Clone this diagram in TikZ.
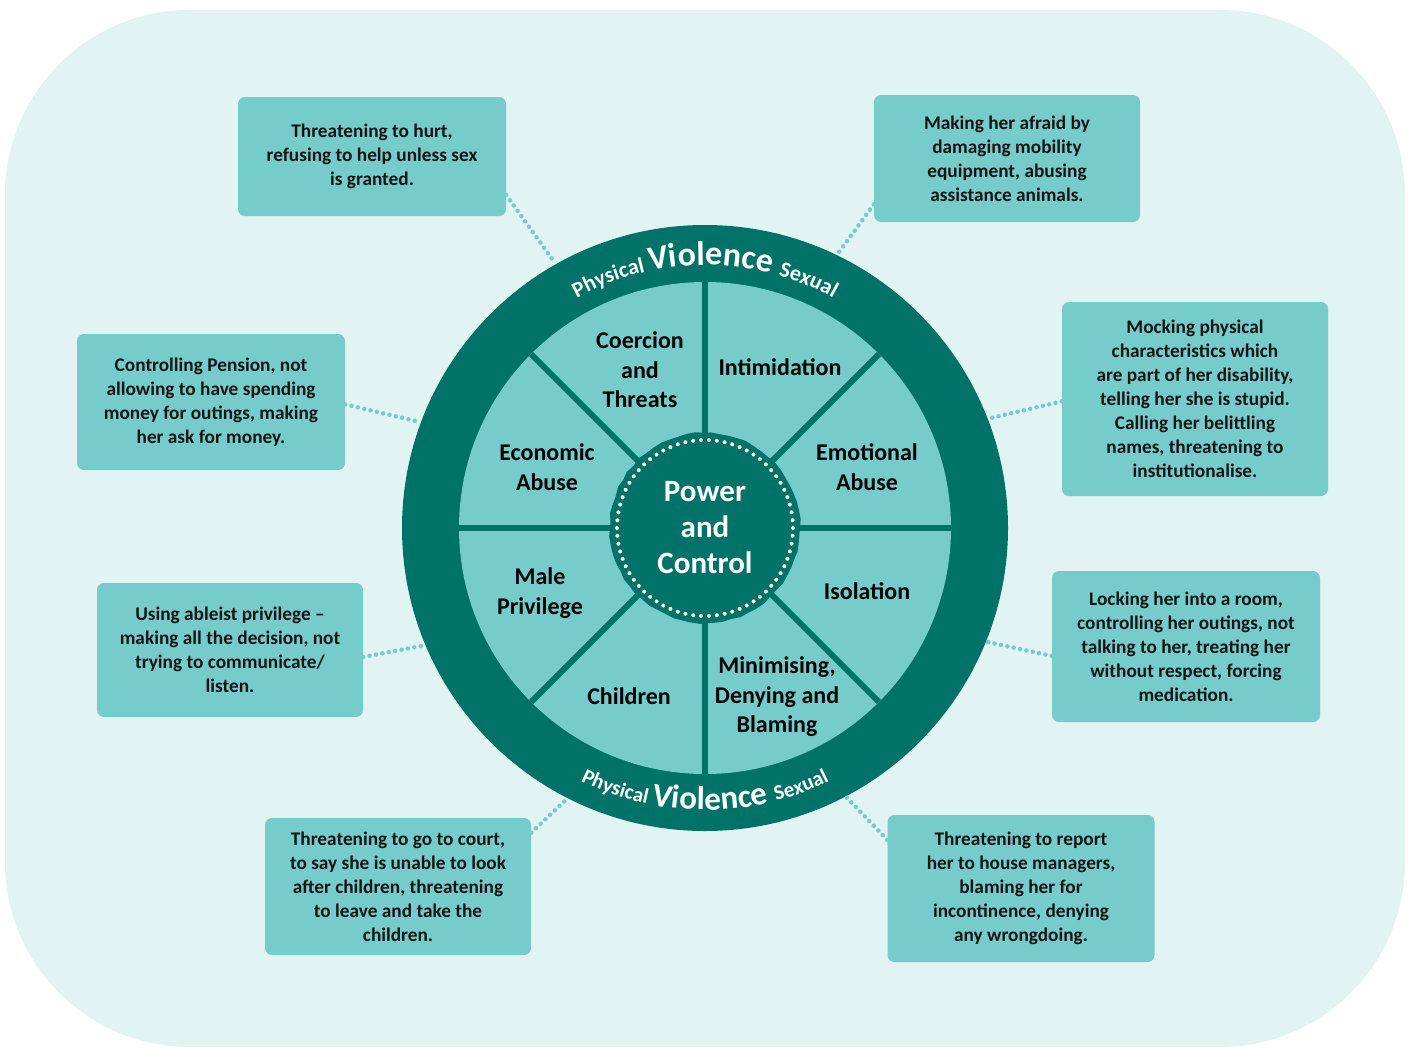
\documentclass[tikz,border=0pt]{standalone}
\usepackage{fontspec}
\setmainfont{Carlito}
\usetikzlibrary{decorations.text,decorations.pathmorphing}
\definecolor{bgpale}{RGB}{226,243,243}
\definecolor{boxteal}{RGB}{118,203,203}
\definecolor{wheeldark}{RGB}{0,114,104}
\definecolor{inktext}{RGB}{20,20,20}
\begin{document}
\begin{tikzpicture}[x=1pt,y=-1pt,
  note/.style={fill=boxteal, rounded corners=7pt, align=center, inner sep=0pt,
    font=\fontsize{19.3}{24}\selectfont\bfseries, text=inktext},
  seglabel/.style={align=center, font=\fontsize{24}{29.5}\selectfont\bfseries, text=black},
  dotlink/.style={draw=boxteal, line width=4.5pt, line cap=round, dash pattern=on 0pt off 6.5pt}]

\useasboundingbox (0,0) rectangle (1412,1049);
\fill[bgpale, rounded corners=185pt] (5,10) rectangle (1405,1047);

% description boxes
\node[note, minimum width=268pt, minimum height=119pt] (b1) at (372,156.5)
  {Threatening to hurt,\\refusing to help unless sex\\is granted.};
\node[note, minimum width=266pt, minimum height=127pt] (b2) at (1007,158.5)
  {Making her afraid by\\damaging mobility\\equipment, abusing\\assistance animals.};
\node[note, minimum width=268pt, minimum height=136pt] (b3) at (211,402)
  {Controlling Pension, not\\allowing to have spending\\money for outings, making\\her ask for money.};
\node[note, minimum width=266pt, minimum height=194pt] (b4) at (1195,399)
  {Mocking physical\\characteristics which\\are part of her disability,\\telling her she is stupid.\\Calling her belittling\\names, threatening to\\institutionalise.};
\node[note, minimum width=266pt, minimum height=134pt] (b5) at (230,650)
  {Using ableist privilege --\\making all the decision, not\\trying to communicate/\\listen.};
\node[note, minimum width=268pt, minimum height=151pt] (b6) at (1186,646.5)
  {Locking her into a room,\\controlling her outings, not\\talking to her, treating her\\without respect, forcing\\medication.};
\node[note, minimum width=266pt, minimum height=137pt] (b7) at (398,886.5)
  {Threatening to go to court,\\to say she is unable to look\\after children, threatening\\to leave and take the\\children.};
\node[note, minimum width=267pt, minimum height=147pt] (b8) at (1021,888.5)
  {Threatening to report\\her to house managers,\\blaming her for\\incontinence, denying\\any wrongdoing.};

% the wheel
\begin{scope}[shift={(705,528)}, y={(0pt,1pt)}]
  \fill[wheeldark] (0,0) circle (303pt);
  \fill[boxteal] (0,0) circle (246pt);
  \foreach \a in {0,45,...,315}
    \draw[wheeldark, line width=6pt] (0,0) -- (\a:246pt);
  \fill[wheeldark, decorate, decoration={random steps, segment length=9pt, amplitude=0.9pt}]
    (0,0) circle (95pt);
  \draw[white, line width=4pt, line cap=round, dash pattern=on 0pt off 7.9pt]
    (0,0) circle (88pt);
  \node[font=\fontsize{31}{36}\selectfont\bfseries, text=white, align=center] (hub) at (0,0)
    {Power\\and\\Control};
  % ring lettering
  \path[decorate, decoration={text along path, text align=center,
      text={|\color{white}\bfseries\fontsize{22}{22}\selectfont|Physical |\color{white}\bfseries\fontsize{34}{34}\selectfont|Violence |\color{white}\bfseries\fontsize{22}{22}\selectfont|Sexual}}]
    (150:263pt) arc (150:30:263pt);
  \path[decorate, decoration={text along path, text align=center,
      text={|\color{white}\bfseries\fontsize{21}{21}\selectfont|Physical |\color{white}\bfseries\fontsize{33}{33}\selectfont|Violence |\color{white}\bfseries\fontsize{21}{21}\selectfont|Sexual}}]
    (208:282pt) arc (208:332:282pt);
  % connector ends on the rim
  \coordinate (r1) at (119.5:304pt);
  \coordinate (r2) at (64.2:304pt);
  \coordinate (r3) at (159.6:304pt);
  \coordinate (r4) at (21.1:304pt);
  \coordinate (r5) at (202.7:304pt);
  \coordinate (r6) at (-22:304pt);
  \coordinate (r7) at (243:304pt);
  \coordinate (r8) at (297.7:304pt);
\end{scope}

% segment labels
\node[seglabel] (s1) at (640,370) {Coercion\\and\\Threats};
\node[seglabel] (s2) at (780,367) {Intimidation};
\node[seglabel] (s3) at (547,467) {Economic\\Abuse};
\node[seglabel] (s4) at (867,467) {Emotional\\Abuse};
\node[seglabel] (s5) at (540,593) {Male\\Privilege};
\node[seglabel] (s6) at (867,591) {Isolation};
\node[seglabel] (s7) at (629,696) {Children};
\node[seglabel] (s8) at (777,697) {Minimising,\\Denying and\\Blaming};

% dotted connectors
\draw[dotlink] (b1.-16.7) -- (r1);
\draw[dotlink] (b2.199.3) -- (r2);
\draw[dotlink] (b3.-1.3) -- (r3);
\draw[dotlink] (b4.181.7) -- (r4);
\draw[dotlink] (b5.-3.9) -- (r5);
\draw[dotlink] (b6.184.5) -- (r6);
\draw[dotlink] (b7.22.3) -- (r7);
\draw[dotlink] (b8.160) -- (r8);
\end{tikzpicture}
\end{document}
